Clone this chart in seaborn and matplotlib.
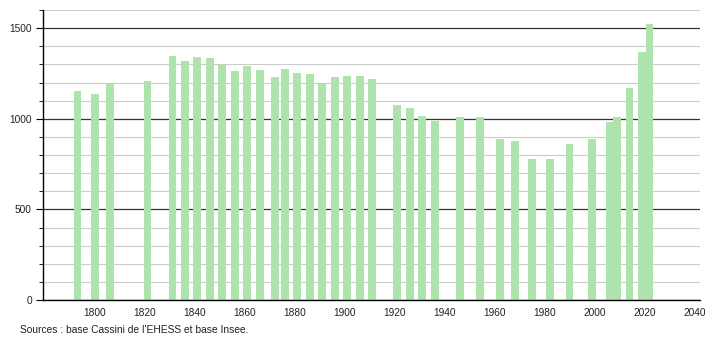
import matplotlib
matplotlib.use("Agg")
import matplotlib.pyplot as plt
import seaborn as sns
import pandas as pd
from matplotlib.ticker import MultipleLocator

years = [1793, 1800, 1806, 1821, 1831, 1836, 1841, 1846, 1851, 1856,
         1861, 1866, 1872, 1876, 1881, 1886, 1891, 1896, 1901, 1906,
         1911, 1921, 1926, 1931, 1936, 1946, 1954, 1962, 1968, 1975,
         1982, 1990, 1999, 2006, 2009, 2014, 2019, 2022]
population = [1154, 1134, 1200, 1208, 1346, 1318, 1341, 1335, 1298, 1265,
              1289, 1269, 1230, 1274, 1252, 1245, 1200, 1230, 1235, 1234,
              1222, 1078, 1058, 1014, 986, 1008, 1008, 886, 875, 779,
              779, 859, 886, 982, 1008, 1169, 1368, 1523]
x_ticks = [1800, 1820, 1840, 1860, 1880, 1900, 1920, 1940, 1960, 1980, 2000, 2020, 2040]
y_ticks = [0, 500, 1000, 1500]
source_text = "Sources : base Cassini de l'EHESS et base Insee."

sns.set_style("white")
plt.rcParams['font.family'] = ['Liberation Sans', 'DejaVu Sans']

df = pd.DataFrame({"year": years, "pop": population})

fig = plt.figure(figsize=(7.1, 3.4), dpi=100)
ax = fig.add_axes([43 / 710, 40 / 340, (700 - 43) / 710, 290 / 340])

sns.barplot(data=df, x="year", y="pop", native_scale=True, width=1.04,
            color="#aee3ae", saturation=1, ax=ax, linewidth=0)

ax.set_xlim(1779.2, 2042.2)
ax.set_ylim(0, 1600)

ax.yaxis.set_major_locator(MultipleLocator(500))
ax.yaxis.set_minor_locator(MultipleLocator(100))
ax.set_xticks(x_ticks)
ax.set_xticklabels([str(t) for t in x_ticks])
ax.set_yticks(y_ticks)
ax.set_yticklabels([str(t) for t in y_ticks])

ax.set_axisbelow(True)
ax.grid(True, which="minor", axis="y", color="#cccccc", linewidth=0.8)
ax.grid(True, which="major", axis="y", color="#333333", linewidth=0.9)

ax.spines["top"].set_visible(False)
ax.spines["right"].set_visible(False)
ax.spines["left"].set_color("black")
ax.spines["bottom"].set_color("black")
ax.spines["left"].set_linewidth(1)
ax.spines["bottom"].set_linewidth(1)

ax.tick_params(axis="y", which="major", left=True, length=5, width=0.8,
               color="black", labelsize=7.3, pad=3, labelcolor="#222222")
ax.tick_params(axis="y", which="minor", left=True, length=3, width=0.6, color="black")
ax.tick_params(axis="x", which="both", bottom=False, labelsize=7.3, pad=2,
               labelcolor="#222222")

ax.set_xlabel("")
ax.set_ylabel("")

fig.text(20 / 710, 1 - 330 / 340, source_text, fontsize=7.4, va="center", ha="left",
         color="#222222")

fig.savefig("out.png", dpi=100)
